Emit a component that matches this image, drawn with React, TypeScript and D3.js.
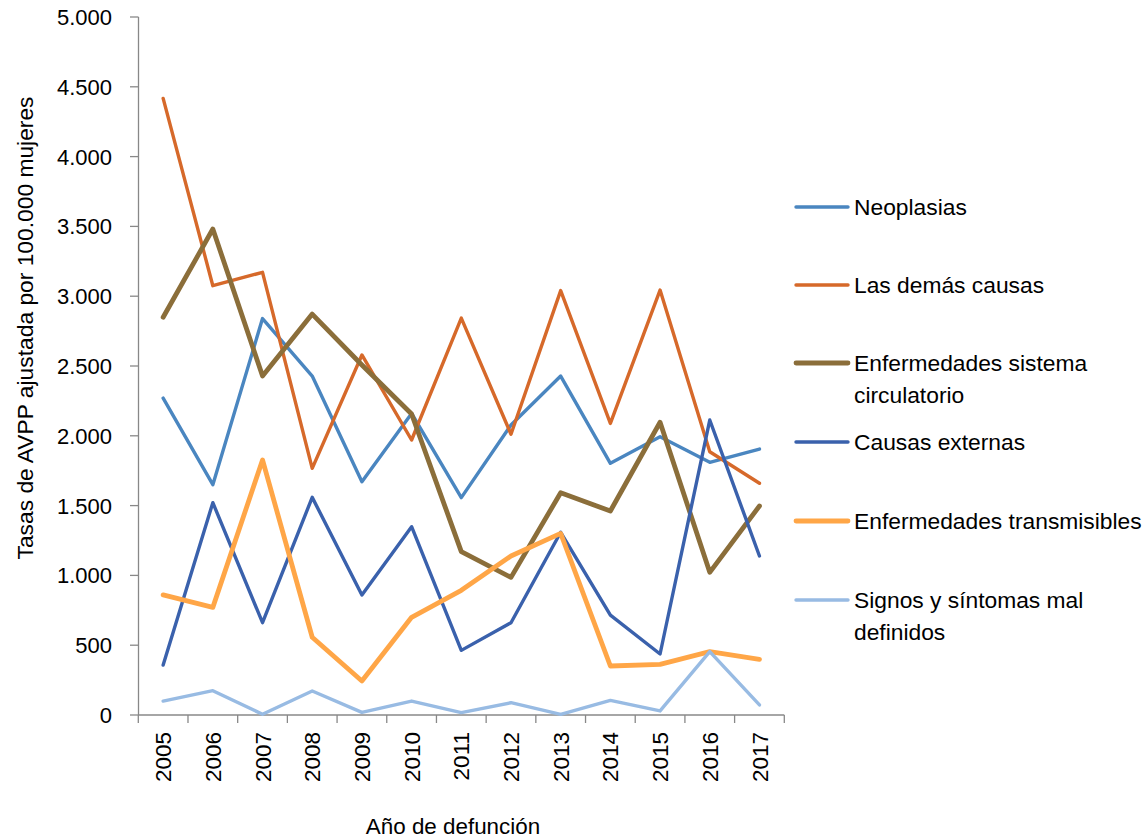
import React from "react";
import * as d3 from "d3";

const years = ["2005","2006","2007","2008","2009","2010","2011","2012","2013","2014","2015","2016","2017"];
const yTicks = [0, 500, 1000, 1500, 2000, 2500, 3000, 3500, 4000, 4500, 5000];

const neoplasias = [2270, 1650, 2840, 2428, 1671, 2160, 1557, 2077, 2428, 1803, 1993, 1810, 1905];
const lasDemas = [4417, 3075, 3171, 1767, 2579, 1970, 2843, 2011, 3040, 2089, 3044, 1886, 1660];
const circulatorio = [2849, 3481, 2428, 2872, 2507, 2156, 1170, 986, 1592, 1461, 2097, 1022, 1497];
const externas = [358, 1521, 661, 1559, 860, 1349, 463, 661, 1309, 716, 437, 2113, 1139];
const transmisibles = [860, 771, 1827, 557, 244, 700, 893, 1139, 1301, 351, 363, 454, 399];
const signos = [100, 174, 5, 172, 19, 100, 17, 88, 5, 105, 29, 454, 72];

const seriesNames = [
  ["Neoplasias"],
  ["Las demás causas"],
  ["Enfermedades sistema", "circulatorio"],
  ["Causas externas"],
  ["Enfermedades transmisibles"],
  ["Signos y síntomas mal", "definidos"],
];
const seriesValues = [neoplasias, lasDemas, circulatorio, externas, transmisibles, signos];
const seriesColors = ["#4A86C0", "#D6692A", "#8B6E3A", "#3A61AC", "#FFA647", "#98BBE3"];
const seriesWidths = [3.4, 3.4, 4.8, 3.4, 4.8, 3.4];
const legendY = [207, 285, 363, 442, 521, 600];

const FONT = "'Liberation Sans', Arial, sans-serif";

export default function App() {
  const width = 1146;
  const height = 839;
  const x = d3.scaleBand<string>().domain(years).range([138.3, 784.3]).paddingInner(0).paddingOuter(0);
  const y = d3.scaleLinear().domain([0, 5000]).range([715, 17]);
  const cx = (d: string) => (x(d) as number) + x.bandwidth() / 2;
  const line = d3
    .line<number>()
    .x((_, i) => cx(years[i]))
    .y((v) => y(v));

  const axisColor = "#888888";
  const boundaries = years.map((d) => x(d) as number).concat([784.3]);

  return (
    <svg
      width={width}
      height={height}
      style={{ position: "absolute", left: 0, top: 0, background: "#fff" }}
      fontFamily={FONT}
    >
      {/* y axis */}
      <line x1={138.5} x2={138.5} y1={17} y2={715} stroke={axisColor} strokeWidth={1.3} />
      {yTicks.map((t) => (
        <g key={t}>
          <line x1={130} x2={138.5} y1={y(t)} y2={y(t)} stroke={axisColor} strokeWidth={1.3} />
          <text x={112} y={y(t)} dy="0.36em" textAnchor="end" fontSize={22} fill="#000">
            {d3.format(",")(t).replace(/,/g, ".")}
          </text>
        </g>
      ))}
      {/* x axis */}
      <line x1={138.3} x2={784.3} y1={715} y2={715} stroke={axisColor} strokeWidth={1.3} />
      {boundaries.map((b, i) => (
        <line key={i} x1={b} x2={b} y1={715} y2={723} stroke={axisColor} strokeWidth={1.3} />
      ))}
      {years.map((d) => (
        <text
          key={d}
          transform={`translate(${cx(d)},${732}) rotate(-90)`}
          dy="0.36em"
          textAnchor="end"
          fontSize={22.5}
          fill="#000"
        >
          {d}
        </text>
      ))}

      {/* lines */}
      {seriesValues.map((vals, i) => (
        <path
          key={i}
          d={line(vals) as string}
          fill="none"
          stroke={seriesColors[i]}
          strokeWidth={seriesWidths[i]}
          strokeLinejoin="round"
          strokeLinecap="round"
        />
      ))}

      {/* axis titles */}
      <text x={453} y={826} dy="0.36em" textAnchor="middle" fontSize={22.4} fill="#000">
        Año de defunción
      </text>
      <text
        transform={`translate(${25},${328}) rotate(-90)`}
        dy="0.36em"
        textAnchor="middle"
        fontSize={22.8}
        fill="#000"
      >
        Tasas de AVPP ajustada por 100.000 mujeres
      </text>

      {/* legend */}
      {seriesNames.map((lines, i) => (
        <g key={i}>
          <line
            x1={796}
            x2={848}
            y1={legendY[i]}
            y2={legendY[i]}
            stroke={seriesColors[i]}
            strokeWidth={seriesWidths[i]}
            strokeLinecap="round"
          />
          {lines.map((t, j) => (
            <text key={j} x={854} y={legendY[i] + j * 32} dy="0.36em" fontSize={22.8} fill="#000">
              {t}
            </text>
          ))}
        </g>
      ))}
    </svg>
  );
}
